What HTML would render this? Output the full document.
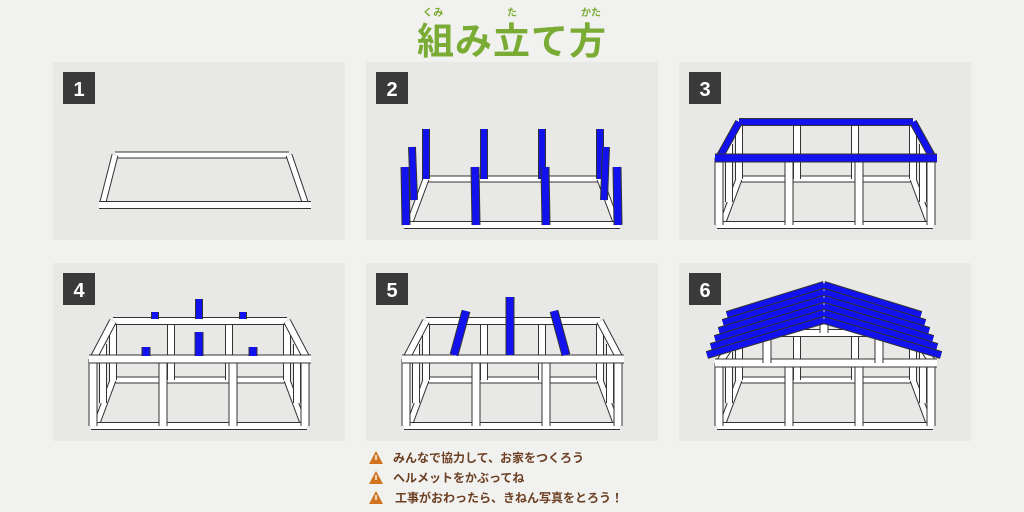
<!DOCTYPE html>
<html><head><meta charset="utf-8">
<style>
html,body{margin:0;padding:0;width:1024px;height:512px;overflow:hidden;background:#f1f1ef;}
</style></head>
<body>
<svg id="s" width="1024" height="512" xmlns="http://www.w3.org/2000/svg" style="position:absolute;left:0;top:0">
<rect width="1024" height="512" fill="#f1f1ef"/>
<text x="512" y="54" text-anchor="middle" font-family="Liberation Sans,Noto Sans CJK JP,sans-serif" font-weight="bold" font-size="37" fill="#7aab34" letter-spacing="1">組み立て方</text>
<text x="433" y="16" text-anchor="middle" font-family="Noto Sans CJK JP,sans-serif" font-weight="bold" font-size="10" fill="#7aab34">くみ</text>
<text x="512" y="16" text-anchor="middle" font-family="Noto Sans CJK JP,sans-serif" font-weight="bold" font-size="10" fill="#7aab34">た</text>
<text x="591" y="16" text-anchor="middle" font-family="Noto Sans CJK JP,sans-serif" font-weight="bold" font-size="10" fill="#7aab34">かた</text>
<g id="g"></g>
<g font-family="Noto Sans CJK JP,sans-serif" font-weight="bold" font-size="12" fill="#6b3f22">
<text x="393" y="462">みんなで協力して、お家をつくろう</text>
<text x="393" y="482">ヘルメットをかぶってね</text>
<text x="395" y="502">工事がおわったら、きねん写真をとろう！</text>
</g>
<g fill="#d2731f">
<path d="M376 451 L383 464 L369 464 Z"/><path d="M376 471 L383 484 L369 484 Z"/><path d="M376 491 L383 504 L369 504 Z"/>
</g>
<g fill="#fff"><rect x="375.3" y="455" width="1.4" height="5"/><rect x="375.3" y="475" width="1.4" height="5"/><rect x="375.3" y="495" width="1.4" height="5"/></g>
</svg>
<script>
(function(){
var NS='http://www.w3.org/2000/svg';
var g=document.getElementById('g');
function el(tag,attrs,txt){var e=document.createElementNS(NS,tag);for(var k in attrs)e.setAttribute(k,attrs[k]);if(txt!==undefined)e.textContent=txt;g.appendChild(e);return e;}
var B='#1212ee',W='#fff';
function bar(x1,y1,x2,y2,w,c){el('line',{x1:x1,y1:y1,x2:x2,y2:y2,stroke:'#333','stroke-width':w+2});el('line',{x1:x1,y1:y1,x2:x2,y2:y2,stroke:c,'stroke-width':w});}
var P=[[53,62],[366,62],[679,62],[53,263],[366,263],[679,263]];
for(var i=0;i<6;i++){var p=P[i];
el('rect',{x:p[0],y:p[1],width:292,height:178,fill:'#e8e8e6'});
el('rect',{x:p[0]+10,y:p[1]+10,width:32,height:32,fill:'#3a3a3a'});
el('text',{x:p[0]+26,y:p[1]+34,'text-anchor':'middle','font-family':'Liberation Sans,sans-serif','font-weight':'bold','font-size':20,fill:'#fff'},String(i+1));}
function ln(p,a,b,w,c){bar(p[0]+a[0],p[1]+a[1],p[0]+b[0],p[1]+b[1],w,c);}
var p;
p=P[0];ln(p,[62,93],[236,93],5,W);ln(p,[62,93],[50,140],5,W);ln(p,[236,93],[252,140],5,W);ln(p,[46,143],[258,143],6,W);
var FX=[40,110,180,252],BX=[60,118,176,234];
function bottom(p){ln(p,[60,117],[234,117],5,W);ln(p,[60,117],[44,160],5,W);ln(p,[234,117],[250,160],5,W);ln(p,[38,163],[254,163],6,W);}
function posts(p,ft,bt,c){BX.forEach(function(x){ln(p,[x,117],[x,bt],6,c);});ln(p,[50,140],[50,(ft+bt)/2+4],6,c);ln(p,[244,140],[244,(ft+bt)/2+4],6,c);FX.forEach(function(x){ln(p,[x,163],[x,ft],7,c);});}
function top(p,ft,bt,c){ln(p,[60,bt],[234,bt],6,c);ln(p,[60,bt],[40,ft],6,c);ln(p,[234,bt],[254,ft],6,c);ln(p,[36,ft],[258,ft],7,c);}
p=P[1];bottom(p);BX.forEach(function(x){ln(p,[x,117],[x,67],6,B);});ln(p,[48,138],[46,85],6,B);ln(p,[238,138],[240,85],6,B);FX.forEach(function(x){ln(p,[x,163],[x-1,105],7,B);});
p=P[2];bottom(p);posts(p,96,60,W);top(p,96,60,B);
p=P[3];bottom(p);posts(p,96,58,W);top(p,96,58,W);
ln(p,[102,56],[102,49],6,B);ln(p,[146,56],[146,36],6,B);ln(p,[190,56],[190,49],6,B);
ln(p,[93,93],[93,84],7,B);ln(p,[146,93],[146,69],7,B);ln(p,[200,93],[200,84],7,B);
p=P[4];bottom(p);posts(p,96,58,W);top(p,96,58,W);
ln(p,[100,48],[88,92],7,B);ln(p,[144,34],[144,92],7,B);ln(p,[188,48],[200,92],7,B);
p=P[5];bottom(p);posts(p,100,70,W);top(p,100,70,W);
ln(p,[145,70],[145,40],7,W);ln(p,[88,100],[88,76],7,W);ln(p,[200,100],[200,76],7,W);
for(var k=0;k<6;k++){var y=22+k*7;ln(p,[145,y],[48-k*4,52+k*8],6,B);ln(p,[145,y],[242+k*4,52+k*8],6,B);}
})();
</script>
</body></html>
